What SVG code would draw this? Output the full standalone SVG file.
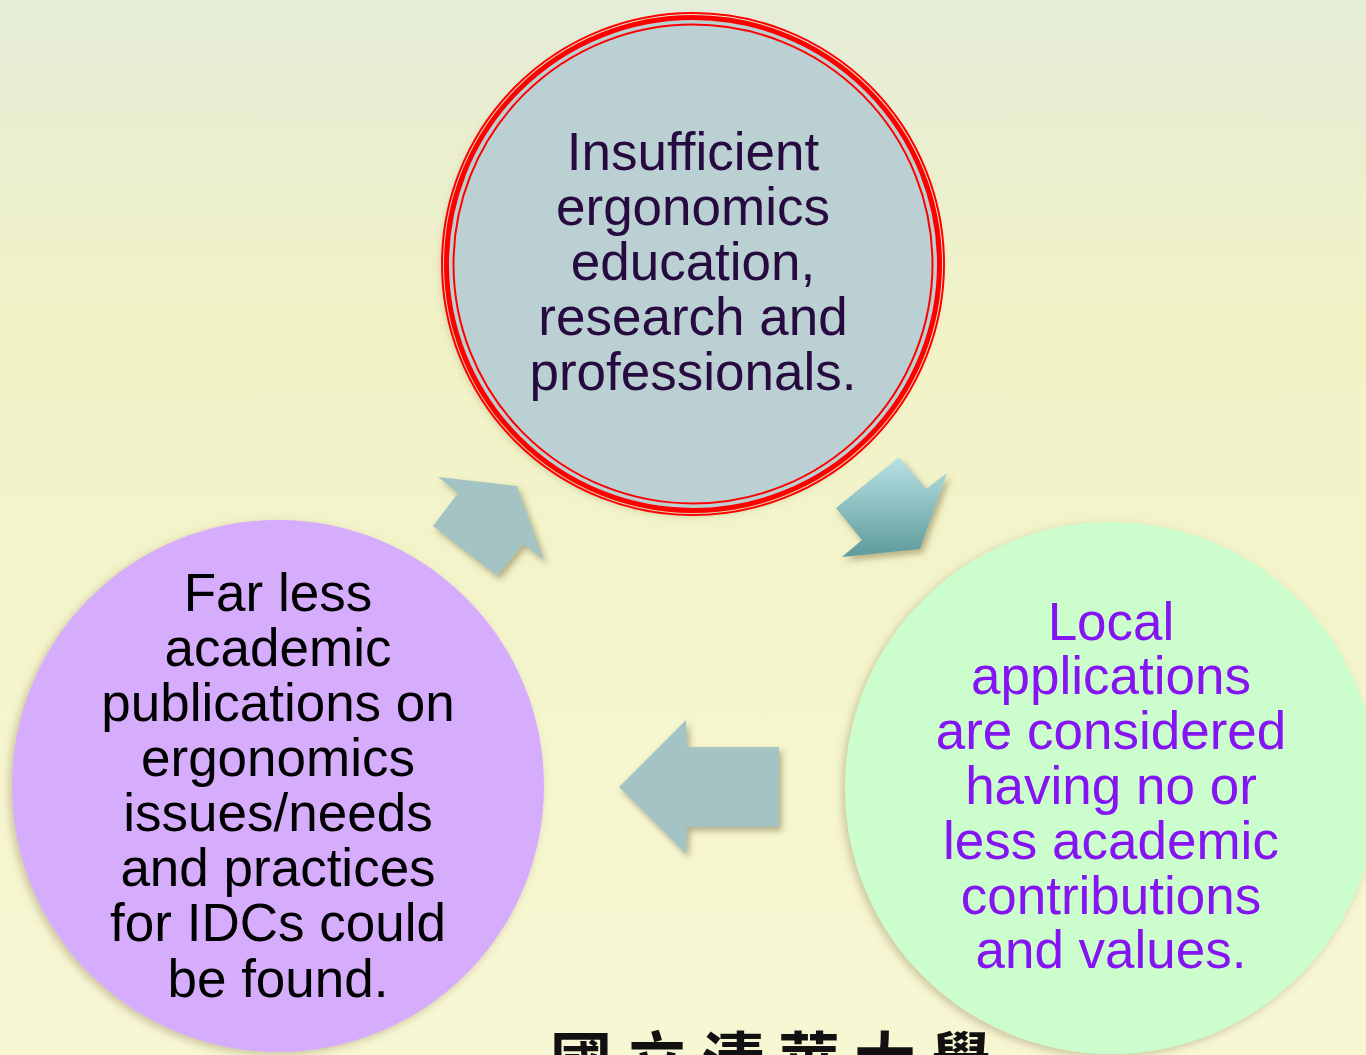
<svg xmlns="http://www.w3.org/2000/svg" width="1366" height="1055" viewBox="0 0 1366 1055">
<defs>
<linearGradient id="bg" x1="0" y1="0" x2="0" y2="1">
<stop offset="0" stop-color="#e5ecd8"/>
<stop offset="0.3" stop-color="#f1f2c6"/>
<stop offset="1" stop-color="#f8f7d4"/>
</linearGradient>
<linearGradient id="arrowGrad" x1="0" y1="0" x2="0" y2="1">
<stop offset="0" stop-color="#b8e2e4"/>
<stop offset="1" stop-color="#5e9a9c"/>
</linearGradient>
<filter id="shadow" x="-20%" y="-20%" width="140%" height="140%">
<feDropShadow dx="3" dy="4" stdDeviation="3" flood-color="#6b5a2a" flood-opacity="0.45"/>
</filter>
<filter id="cshadow" x="-10%" y="-10%" width="120%" height="120%">
<feDropShadow dx="-3" dy="3" stdDeviation="4" flood-color="#8a7a50" flood-opacity="0.4"/>
</filter>
<style>
.t{font-family:"Liberation Sans",Arial,sans-serif;font-size:53px;text-anchor:middle}
.arrow{fill:#a3c3c4;filter:url(#shadow)}
.ring{fill:none;stroke:#ff0000}
</style>
</defs>
<rect width="1366" height="1055" fill="url(#bg)"/>
<text x="550" y="1084" font-family="'Noto Sans CJK TC',sans-serif" font-size="62" font-weight="bold" letter-spacing="14" fill="#111">國立清華大學</text>
<g id="connectors">
<polygon class="arrow" points="438,477 517,486 544,560 523,544 497,576 433,526 458,493"/>
<polygon points="899,457 926,489 947,473 920,549 842,557 862,540 836,508" fill="url(#arrowGrad)" filter="url(#shadow)"/>
<polygon class="arrow" points="619,787 686,720 687,747 779,747 779,827 687,827 686,854"/>
</g>
<g id="node-top">
<circle cx="693" cy="264" r="248" fill="#bbd0d2" filter="url(#cshadow)"/>
<circle class="ring" cx="693" cy="264" r="251" stroke-width="2"/>
<circle class="ring" cx="693" cy="264" r="246.5" stroke-width="5"/>
<circle class="ring" cx="693" cy="264" r="239.5" stroke-width="2"/>
<text class="t" fill="#260a40"><tspan x="693" y="170">Insufficient</tspan><tspan x="693" y="225">ergonomics</tspan><tspan x="693" y="280">education,</tspan><tspan x="693" y="335">research and</tspan><tspan x="693" y="390">professionals.</tspan></text>
</g>
<g id="node-left">
<circle cx="278" cy="786" r="266" fill="#d5adfc" filter="url(#cshadow)"/>
<text class="t" fill="#000"><tspan x="278" y="611">Far less</tspan><tspan x="278" y="666">academic</tspan><tspan x="278" y="721">publications on</tspan><tspan x="278" y="776">ergonomics</tspan><tspan x="278" y="831">issues/needs</tspan><tspan x="278" y="886">and practices</tspan><tspan x="278" y="941">for IDCs could</tspan><tspan x="278" y="997">be found.</tspan></text>
</g>
<g id="node-right">
<circle cx="1111" cy="788" r="266" fill="#ccfdcc" filter="url(#cshadow)"/>
<text class="t" fill="#8414f2"><tspan x="1111" y="640">Local</tspan><tspan x="1111" y="694">applications</tspan><tspan x="1111" y="749">are considered</tspan><tspan x="1111" y="804">having no or</tspan><tspan x="1111" y="859">less academic</tspan><tspan x="1111" y="914">contributions</tspan><tspan x="1111" y="968">and values.</tspan></text>
</g>
</svg>
